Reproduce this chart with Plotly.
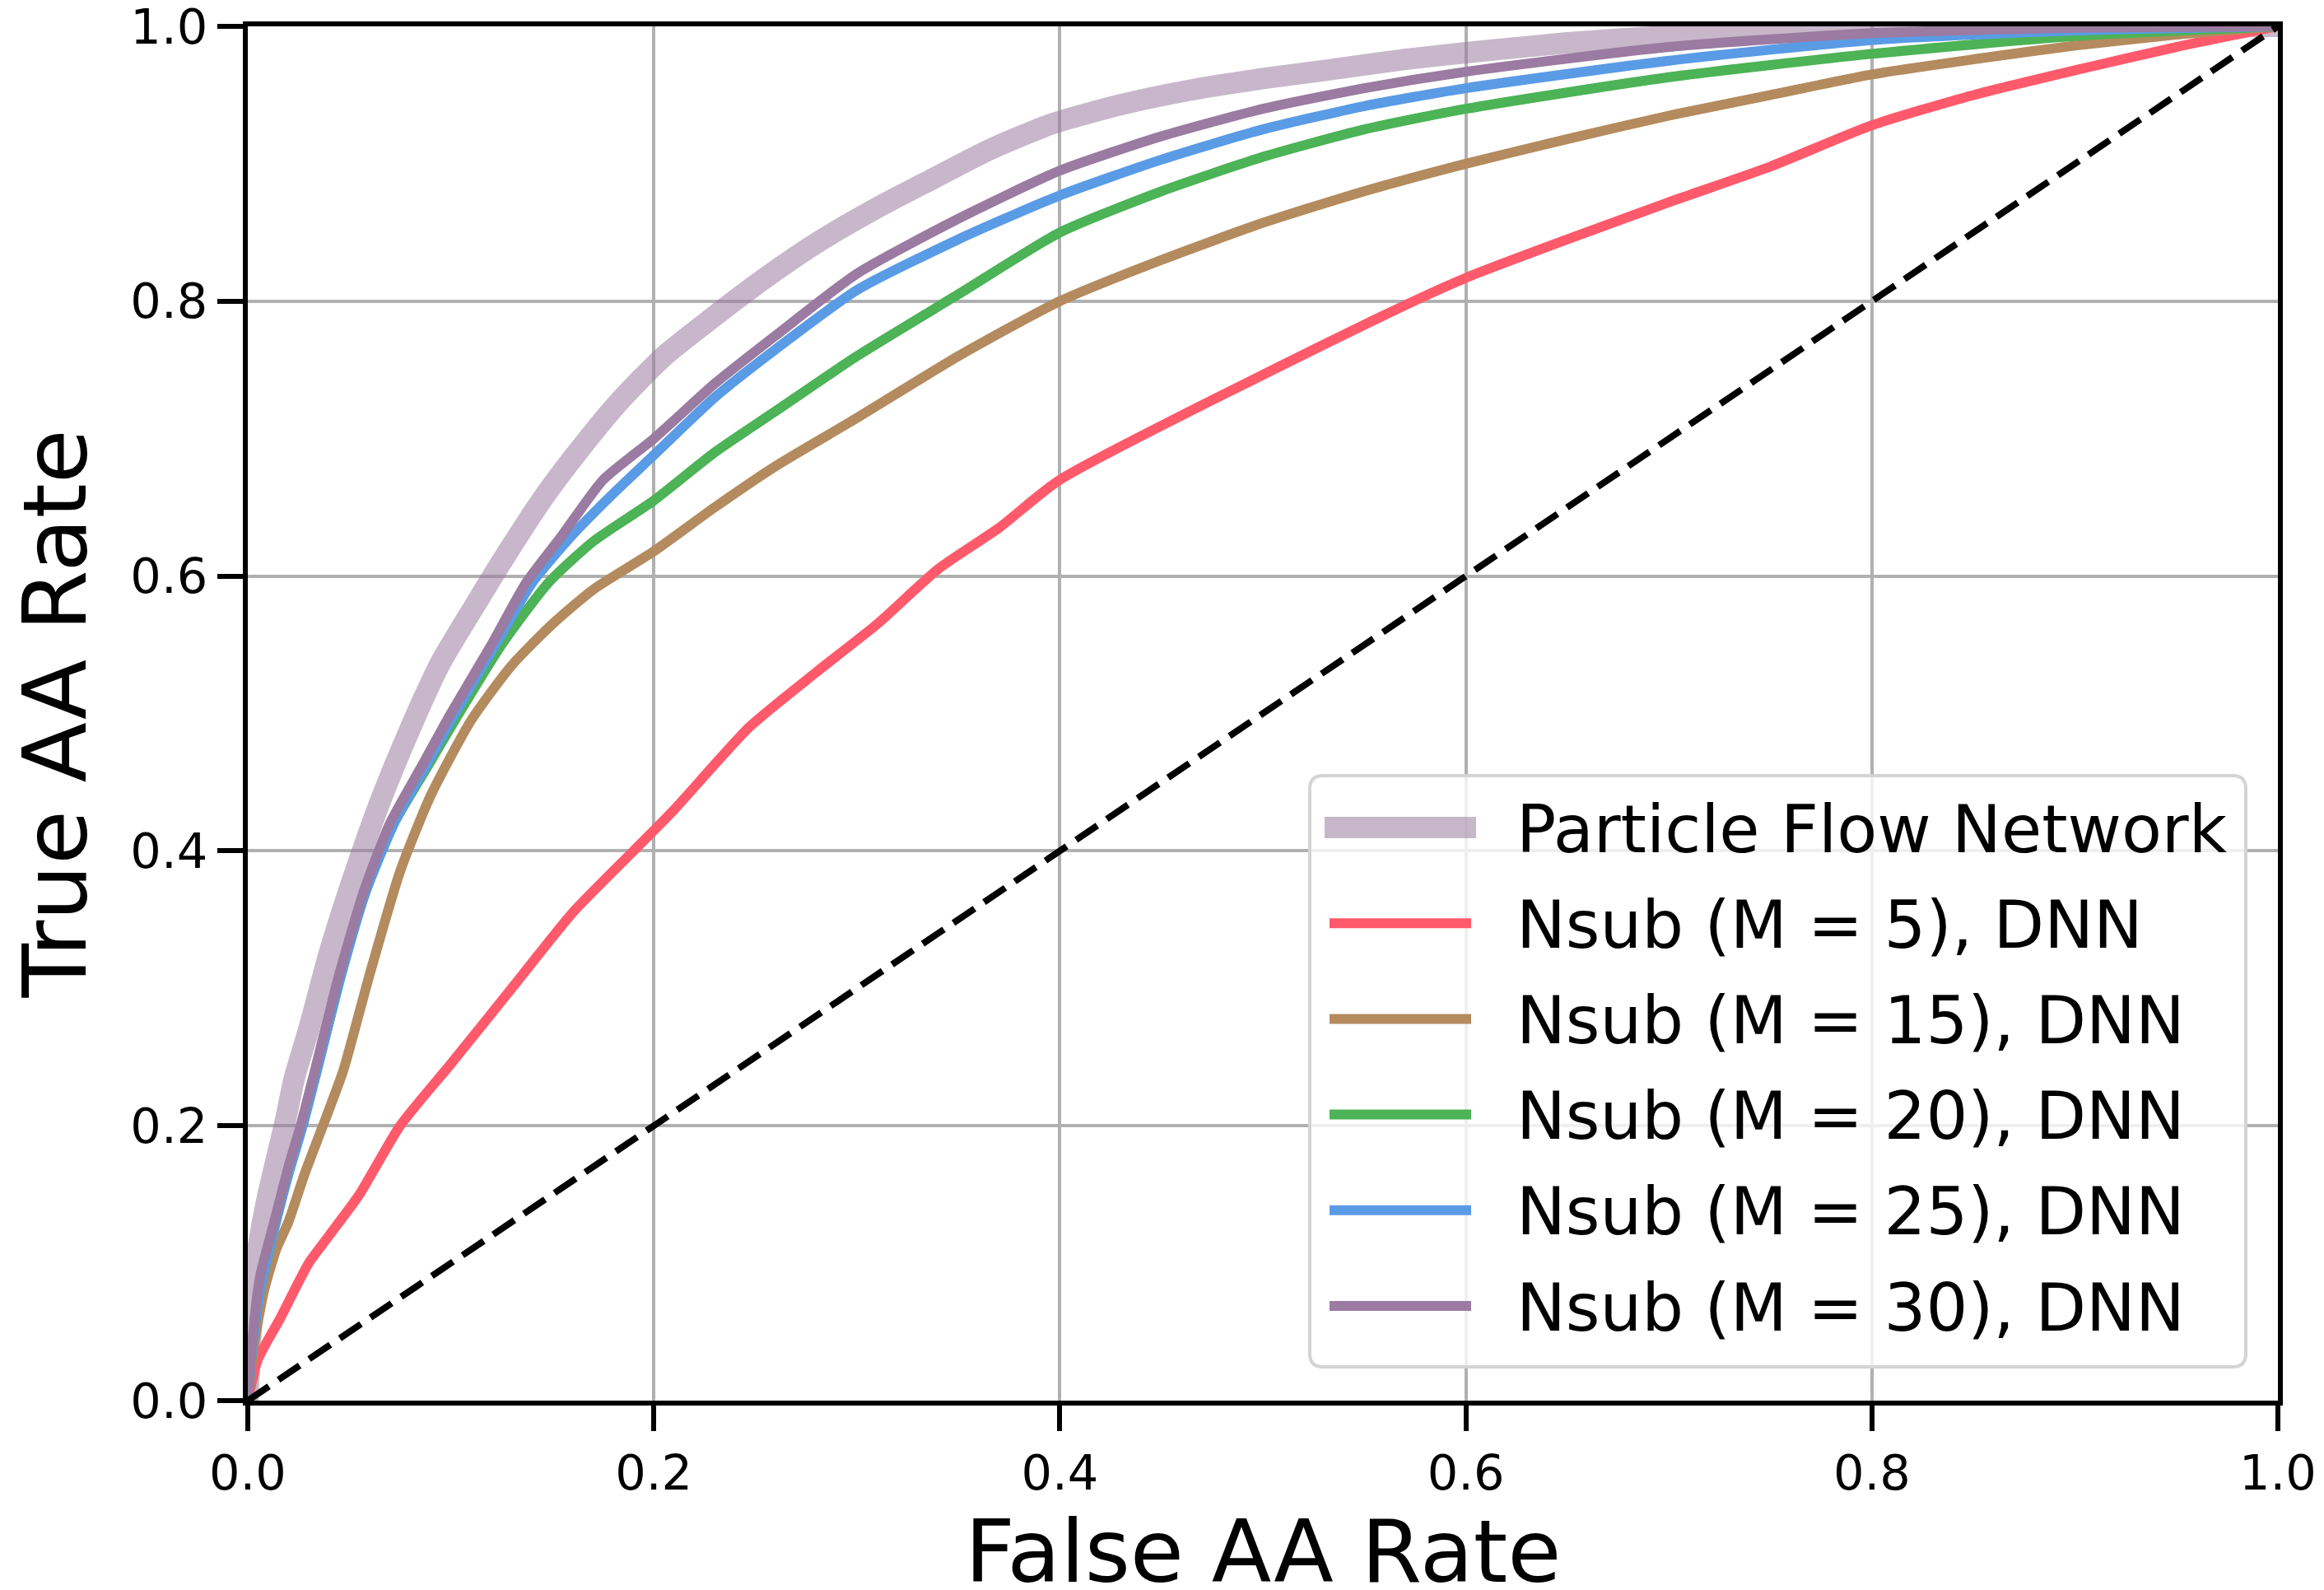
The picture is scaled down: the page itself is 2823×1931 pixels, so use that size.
import plotly.graph_objects as go

# ---------------- data ----------------
pfn_x = [0, 0.002, 0.005, 0.01, 0.018, 0.023, 0.03, 0.04, 0.05, 0.065, 0.08, 0.095, 0.112, 0.13,
         0.147, 0.165, 0.183, 0.205, 0.228, 0.255, 0.282, 0.31, 0.336, 0.365, 0.396, 0.43,
         0.462, 0.5, 0.531, 0.57, 0.608, 0.65, 0.7, 0.75, 0.8, 0.9, 1.0]
pfn_y = [0, 0.06, 0.11, 0.15, 0.2, 0.235, 0.27, 0.325, 0.372, 0.435, 0.489, 0.537, 0.579, 0.622,
         0.66, 0.695, 0.727, 0.76, 0.787, 0.817, 0.844, 0.868, 0.888, 0.91, 0.929, 0.943,
         0.953, 0.962, 0.968, 0.976, 0.982, 0.988, 0.993, 0.996, 0.998, 0.9995, 1.0]

m5_x = [0, 0.005, 0.016, 0.03, 0.04, 0.055, 0.075, 0.1, 0.13, 0.16, 0.19, 0.21, 0.247, 0.28,
        0.31, 0.34, 0.37, 0.4, 0.56, 0.6, 0.65, 0.7, 0.75, 0.8, 0.85, 0.9, 0.95, 1.0]
m5_y = [0, 0.03, 0.06, 0.10, 0.12, 0.15, 0.20, 0.245, 0.30, 0.355, 0.40, 0.43, 0.49, 0.53,
        0.565, 0.605, 0.635, 0.67, 0.79, 0.817, 0.845, 0.872, 0.898, 0.928, 0.95, 0.968, 0.985, 1.0]

m15_x = [0, 0.003, 0.008, 0.014, 0.02, 0.028, 0.037, 0.047, 0.06, 0.075, 0.09, 0.11, 0.13, 0.15,
         0.17, 0.2, 0.23, 0.26, 0.3, 0.35, 0.4, 0.45, 0.5, 0.55, 0.6, 0.65, 0.7, 0.75, 0.8,
         0.85, 0.9, 0.95, 1.0]
m15_y = [0, 0.04, 0.08, 0.11, 0.13, 0.165, 0.2, 0.24, 0.31, 0.385, 0.44, 0.495, 0.535, 0.565,
         0.59, 0.618, 0.65, 0.68, 0.715, 0.76, 0.80, 0.83, 0.857, 0.88, 0.9, 0.918, 0.935, 0.95,
         0.965, 0.976, 0.986, 0.994, 1.0]

m20_x = [0, 0.002, 0.006, 0.013, 0.02, 0.027, 0.034, 0.046, 0.058, 0.072, 0.088, 0.104, 0.125,
         0.148, 0.17, 0.2, 0.23, 0.26, 0.3, 0.35, 0.4, 0.45, 0.5, 0.55, 0.6, 0.7, 0.8, 0.9, 1.0]
m20_y = [0, 0.035, 0.08, 0.125, 0.165, 0.2, 0.24, 0.31, 0.37, 0.42, 0.46, 0.50, 0.55,
         0.595, 0.625, 0.655, 0.69, 0.72, 0.76, 0.805, 0.85, 0.88, 0.905, 0.925, 0.94, 0.963,
         0.98, 0.993, 1.0]

m25_x = [0, 0.002, 0.006, 0.013, 0.02, 0.027, 0.034, 0.046, 0.058, 0.072, 0.087, 0.102, 0.122,
         0.14, 0.16, 0.18, 0.2, 0.23, 0.26, 0.3, 0.35, 0.4, 0.45, 0.5, 0.55, 0.6, 0.7, 0.8,
         0.9, 1.0]
m25_y = [0, 0.035, 0.08, 0.125, 0.165, 0.2, 0.24, 0.31, 0.37, 0.42, 0.46, 0.50, 0.55,
         0.595, 0.63, 0.66, 0.688, 0.73, 0.765, 0.808, 0.845, 0.877, 0.903, 0.925, 0.942,
         0.955, 0.975, 0.99, 0.997, 1.0]

m30_x = [0, 0.002, 0.006, 0.013, 0.02, 0.026, 0.033, 0.045, 0.057, 0.07, 0.085, 0.1, 0.12, 0.137,
         0.155, 0.175, 0.2, 0.23, 0.26, 0.3, 0.35, 0.4, 0.45, 0.5, 0.55, 0.6, 0.7, 0.8, 0.9, 1.0]
m30_y = [0, 0.04, 0.09, 0.13, 0.17, 0.2, 0.24, 0.31, 0.37, 0.42, 0.46, 0.50, 0.55, 0.595,
         0.63, 0.67, 0.70, 0.74, 0.775, 0.82, 0.86, 0.895, 0.92, 0.94, 0.955, 0.967, 0.985,
         0.995, 0.999, 1.0]

diag_x = [0, 1]
diag_y = [0, 1]

series_names = ["Particle Flow Network", "Nsub (M = 5), DNN", "Nsub (M = 15), DNN",
                "Nsub (M = 20), DNN", "Nsub (M = 25), DNN", "Nsub (M = 30), DNN"]
series_x = [pfn_x, m5_x, m15_x, m20_x, m25_x, m30_x]
series_y = [pfn_y, m5_y, m15_y, m20_y, m25_y, m30_y]
series_colors = ["rgba(155,123,161,0.55)", "#ff5a6b", "#b48b5e", "#4cb356", "#5a9be6", "#9b7ba1"]
series_widths = [26, 12, 12, 12, 12, 12]

tick_vals = [0.0, 0.2, 0.4, 0.6, 0.8, 1.0]
tick_text = ["0.0", "0.2", "0.4", "0.6", "0.8", "1.0"]

x_title = "False AA Rate"
y_title = "True AA Rate"

# ---------------- layout geometry ----------------
W, H = 2823, 1931
ML, MR, MT, MB = 301, 56, 32, 230
PW = W - ML - MR
PH = H - MT - MB
FONT = "DejaVu Sans"


def px_x(p):
    return (p - ML) / PW


def px_y(p):
    return (H - MB - p) / PH


fig = go.Figure()
for name, xs, ys, col, wd in zip(series_names, series_x, series_y, series_colors, series_widths):
    fig.add_trace(go.Scatter(x=xs, y=ys, mode="lines", name=name,
                             line=dict(color=col, width=wd, shape="spline", smoothing=0.6),
                             showlegend=False, hoverinfo="skip"))
fig.add_trace(go.Scatter(x=diag_x, y=diag_y, mode="lines", name="Random",
                         line=dict(color="black", width=8, dash="31px,14px"),
                         showlegend=False, hoverinfo="skip"))

# ---------------- custom legend (matplotlib-like) ----------------
bx0, bx1, by_top, by_bot = px_x(1591), px_x(2728), px_y(942), px_y(1660)
rx, ry = 16 / PW, 16 / PH
path = (f"M {bx0+rx},{by_top} L {bx1-rx},{by_top} Q {bx1},{by_top} {bx1},{by_top-ry} "
        f"L {bx1},{by_bot+ry} Q {bx1},{by_bot} {bx1-rx},{by_bot} L {bx0+rx},{by_bot} "
        f"Q {bx0},{by_bot} {bx0},{by_bot+ry} L {bx0},{by_top-ry} Q {bx0},{by_top} {bx0+rx},{by_top} Z")
shapes = [dict(type="path", path=path, xref="paper", yref="paper",
               fillcolor="rgba(255,255,255,0.8)", line=dict(color="#d4d4d4", width=4),
               layer="above")]
annotations = []
row0, row_step = 1005, 116.2
for i, (name, col, wd) in enumerate(zip(series_names, series_colors, series_widths)):
    yc = row0 + i * row_step
    x0, x1 = (1609, 1793) if i == 0 else (1615, 1787)
    shapes.append(dict(type="line", xref="paper", yref="paper",
                       x0=px_x(x0), x1=px_x(x1), y0=px_y(yc), y1=px_y(yc),
                       line=dict(color=col, width=wd), layer="above"))
    annotations.append(dict(text=name, xref="paper", yref="paper",
                            x=px_x(1840), y=px_y(yc + 2), xanchor="left", yanchor="middle",
                            showarrow=False, font=dict(family=FONT, size=80, color="black")))

# x-axis title (placed as annotation so its baseline sits where the reference has it)
annotations.append(dict(text=x_title, xref="paper", yref="paper",
                        x=0.5, y=px_y(1884), xanchor="center", yanchor="middle",
                        showarrow=False, font=dict(family=FONT, size=106, color="black")))

axis_common = dict(range=[0, 1], tickmode="array", tickvals=tick_vals, ticktext=tick_text,
                   showgrid=True, gridcolor="#b0b0b0", gridwidth=4, zeroline=False,
                   showline=True, linecolor="black", linewidth=6, mirror=True,
                   ticks="outside", ticklen=31, tickwidth=6, tickcolor="black",
                   tickfont=dict(family=FONT, size=59, color="black"),
                   ticklabeloverflow="allow", fixedrange=True)

fig.update_layout(
    width=W, height=H,
    margin=dict(l=ML, r=MR, t=MT, b=MB, autoexpand=False),
    paper_bgcolor="white", plot_bgcolor="white",
    font=dict(family=FONT, color="black"),
    xaxis=dict(**axis_common),
    yaxis=dict(**axis_common,
               title=dict(text=y_title, font=dict(family=FONT, size=107), standoff=20)),
    shapes=shapes, annotations=annotations, showlegend=False,
)

fig.write_html("out.html")
